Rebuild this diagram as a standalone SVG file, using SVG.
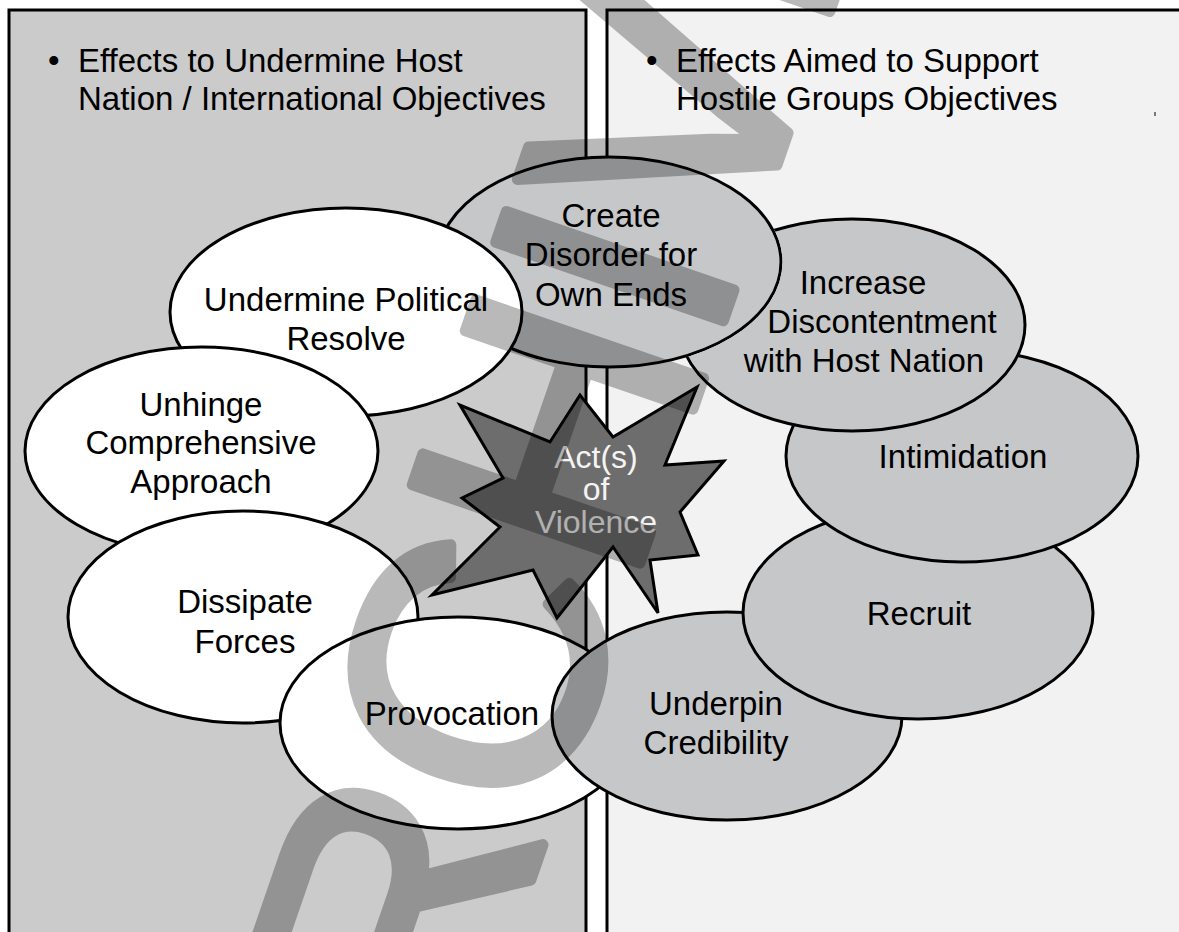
<svg xmlns="http://www.w3.org/2000/svg" width="1179" height="932" viewBox="0 0 1179 932">
<style>
.panel{stroke:#000;stroke-width:3}
.ell{stroke:#000;stroke-width:3}
.w{fill:#ffffff}
.g{fill:#c6c7c9}
.t{font-family:"Liberation Sans",Arial,sans-serif;font-size:33px;fill:#000;text-anchor:middle}
.h{font-family:"Liberation Sans",Arial,sans-serif;font-size:33px;fill:#000}
.st{font-family:"Liberation Sans",Arial,sans-serif;font-size:32px;fill:#f4f4f4;text-anchor:middle}
</style>
<defs>
<clipPath id="notCreate">
<path clip-rule="evenodd" d="M0 0H1179V932H0Z M435.5 262a173.5 106.5 0 1 0 347 0a173.5 106.5 0 1 0 -347 0Z"/>
</clipPath>
</defs>
<rect width="1179" height="932" fill="#ffffff"/>
<g id="panel-left">
<rect class="panel" x="9" y="10" width="577" height="940" fill="#cbcbcb"/>
<text class="h"><tspan x="48" y="72">•</tspan><tspan x="78" y="72">Effects to Undermine Host</tspan><tspan x="78" y="110">Nation / International Objectives</tspan></text>
</g>
<g id="panel-right">
<rect class="panel" x="607" y="10" width="600" height="940" fill="#f2f2f2"/>
<text class="h"><tspan x="646" y="72">•</tspan><tspan x="676" y="72">Effects Aimed to Support</tspan><tspan x="676" y="110">Hostile Groups Objectives</tspan></text>
<line x1="1155" y1="112" x2="1155" y2="116" stroke="#000" stroke-width="1"/>
</g>
<g id="connectors"/>
<g id="create-disorder">
<ellipse class="ell g" cx="609" cy="262" rx="172" ry="105"/>
<text class="t"><tspan x="611" y="227">Create</tspan><tspan x="611" y="266">Disorder for</tspan><tspan x="611" y="306">Own Ends</tspan></text>
</g>
<g id="undermine-political-resolve">
<ellipse class="ell w" cx="346" cy="312" rx="176" ry="104"/>
<text class="t"><tspan x="346" y="311">Undermine Political</tspan><tspan x="346" y="350">Resolve</tspan></text>
</g>
<g id="unhinge-comprehensive-approach">
<ellipse class="ell w" cx="201.5" cy="451" rx="176.5" ry="104"/>
<text class="t"><tspan x="201" y="416">Unhinge</tspan><tspan x="201" y="454">Comprehensive</tspan><tspan x="201" y="493">Approach</tspan></text>
</g>
<g id="dissipate-forces">
<ellipse class="ell w" cx="243" cy="617" rx="175" ry="106"/>
<text class="t"><tspan x="245" y="613">Dissipate</tspan><tspan x="245" y="653">Forces</tspan></text>
</g>
<g id="provocation">
<ellipse class="ell w" cx="458" cy="723" rx="178" ry="106"/>
<text class="t" x="452" y="725">Provocation</text>
</g>
<g id="underpin-credibility">
<ellipse class="ell g" cx="727" cy="716" rx="175" ry="104"/>
<text class="t"><tspan x="716" y="715">Underpin</tspan><tspan x="716" y="754">Credibility</tspan></text>
</g>
<g id="recruit">
<ellipse class="ell g" cx="918" cy="613" rx="175" ry="106"/>
<text class="t" x="919" y="625">Recruit</text>
</g>
<g id="intimidation">
<ellipse class="ell g" cx="962" cy="456" rx="176" ry="106"/>
<text class="t" x="963" y="468">Intimidation</text>
</g>
<g id="increase-discontentment">
<ellipse class="ell g" cx="852" cy="325" rx="173" ry="106" clip-path="url(#notCreate)"/>
<text class="t"><tspan x="863" y="294">Increase</tspan><tspan x="882" y="333">Discontentment</tspan><tspan x="864" y="372">with Host Nation</tspan></text>
</g>
<g id="acts-of-violence">
<polygon points="724,461 680,512 698,555 650,560 658,613 613,547 557,618 533,570 432,595 500,527 462,498 503,478 460,405 550,442 580,395 613,437 697,387 665,465" fill="#6d6d6d" stroke="#000" stroke-width="3" stroke-linejoin="miter"/>
<text class="st"><tspan x="596" y="468">Act(s)</tspan><tspan x="596" y="500">of</tspan><tspan x="596" y="533">Violence</tspan></text>
</g>
<g id="watermark" opacity="0.27">
<text transform="translate(390,1289) rotate(-71)" font-family="Liberation Sans, Arial, sans-serif" font-size="350" fill="#000" stroke="#000" stroke-width="11" stroke-linejoin="round">ARCHIVED</text>
</g>
</svg>
